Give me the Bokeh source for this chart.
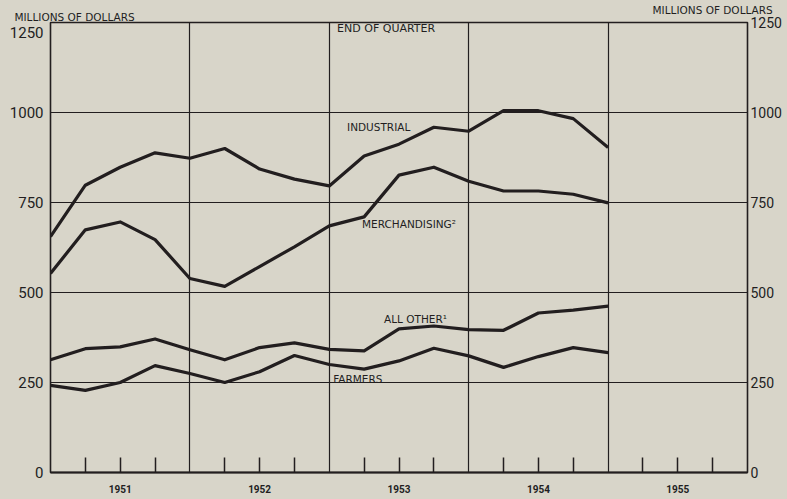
from bokeh.plotting import figure
from bokeh.models import FixedTicker, LinearAxis, Label, Range1d, GlobalInlineStyleSheet
from bokeh.embed import file_html
from bokeh.resources import INLINE

# ---- data (millions of dollars, end of quarter) ----
quarters = ["1950-Q4",
            "1951-Q1", "1951-Q2", "1951-Q3", "1951-Q4",
            "1952-Q1", "1952-Q2", "1952-Q3", "1952-Q4",
            "1953-Q1", "1953-Q2", "1953-Q3", "1953-Q4",
            "1954-Q1", "1954-Q2", "1954-Q3", "1954-Q4"]
industrial = [655, 798, 848, 888, 873, 900, 843, 815, 796, 879, 912, 959, 948, 1005, 1005, 983, 903]
merchandising = [553, 674, 696, 647, 539, 517, 572, 627, 685, 710, 826, 848, 809, 782, 782, 773, 749]
all_other = [313, 344, 349, 371, 341, 313, 347, 360, 342, 338, 399, 407, 397, 395, 443, 451, 462]
farmers = [242, 228, 250, 297, 275, 250, 280, 325, 300, 287, 310, 345, 324, 292, 322, 347, 333]
years = [1951, 1952, 1953, 1954, 1955]
y_ticks = [0, 250, 500, 750, 1000, 1250]
unit_label = "MILLIONS OF DOLLARS"

def qpos(label):
    y, q = label.split("-Q")
    return (int(y) - 1950) * 4 + int(q) - 4

x = [qpos(q) for q in quarters]

BG = "#d8d5c9"
INK = "#221e1f"
FONT = "DejaVu Sans"
NUMF = "Roboto"

p = figure(width=787, height=499, x_range=Range1d(0, 20), y_range=Range1d(0, y_ticks[-1]),
           output_backend="svg", toolbar_location=None,
           min_border_left=50, min_border_right=40, min_border_top=20, min_border_bottom=27)
p.stylesheets = [GlobalInlineStyleSheet(css="html, body { background: %s; }" % BG)]
p.background_fill_color = BG
p.border_fill_color = BG
p.outline_line_color = INK
p.outline_line_width = 1.6

# x axis: quarter ticks, year labels at mid-year
year_starts = [(yr - 1950) * 4 - 4 for yr in years]
tick_list = [ys + k for ys in year_starts for k in (1, 2, 3)]
overrides = {t: "" for t in tick_list}
for yr, ys in zip(years, year_starts):
    overrides[ys + 2] = str(yr)
xa = p.below[0]
xa.ticker = FixedTicker(ticks=tick_list)
xa.major_label_overrides = overrides
xa.major_tick_in = 15
xa.major_tick_out = 0
xa.major_tick_line_color = INK
xa.major_tick_line_width = 1.5
xa.minor_tick_line_color = None
xa.axis_line_color = INK
xa.axis_line_width = 2
xa.major_label_standoff = 12
xa.major_label_text_font = NUMF
xa.major_label_text_font_style = "bold"
xa.major_label_text_font_size = "10px"
xa.major_label_text_color = INK

# top "axis" carrying the unit captions (right one raised by an empty second line)
ta = LinearAxis(ticker=FixedTicker(ticks=[0.69, 19.0]),
                major_label_overrides={0.69: unit_label, 19.0: unit_label + "\n"},
                major_tick_in=0, major_tick_out=0, minor_tick_line_color=None,
                axis_line_color=None, major_label_standoff=0,
                major_label_text_font=FONT, major_label_text_font_size="10.5px",
                major_label_text_line_height=0.55,
                major_label_text_color=INK)
p.add_layout(ta, "above")

# left axis
left_over = {y_ticks[-1]: "\n" + str(y_ticks[-1])}
ya = p.left[0]
ya.ticker = FixedTicker(ticks=y_ticks)
ya.major_label_overrides = left_over
ya.major_tick_in = 0
ya.major_tick_out = 0
ya.minor_tick_line_color = None
ya.axis_line_color = None
ya.major_label_standoff = 7
ya.major_label_text_font = NUMF
ya.major_label_text_font_size = "15px"
ya.major_label_text_color = INK

# right axis
ra = LinearAxis(ticker=FixedTicker(ticks=y_ticks), major_tick_in=0, major_tick_out=0,
                minor_tick_line_color=None, axis_line_color=None, major_label_standoff=3,
                major_label_text_font=NUMF, major_label_text_font_size="14px",
                major_label_text_color=INK)
p.add_layout(ra, "right")

# grids
p.xgrid.ticker = FixedTicker(ticks=year_starts[1:])
p.ygrid.ticker = FixedTicker(ticks=y_ticks[1:-1])
p.xgrid.grid_line_color = INK
p.ygrid.grid_line_color = INK
p.xgrid.grid_line_width = 1.2
p.ygrid.grid_line_width = 1.2

# series
for series in (industrial, merchandising, all_other, farmers):
    p.line(x, series, line_width=3.2, line_color=INK, line_join="round")

def lab(xv, yv, text, size="10.5px", align="left"):
    p.add_layout(Label(x=xv, y=yv, text=text, text_font=FONT, text_font_size=size,
                       text_color=INK, text_align=align, text_baseline="middle"))

lab(8.51, 960, "INDUSTRIAL")
lab(8.94, 691, "MERCHANDISING²")
lab(9.57, 426, "ALL OTHER¹")
lab(8.11, 260, "FARMERS")
lab(9.63, 1233, "END OF QUARTER", size="11px", align="center")

open("out.html", "w").write(file_html(p, INLINE))
